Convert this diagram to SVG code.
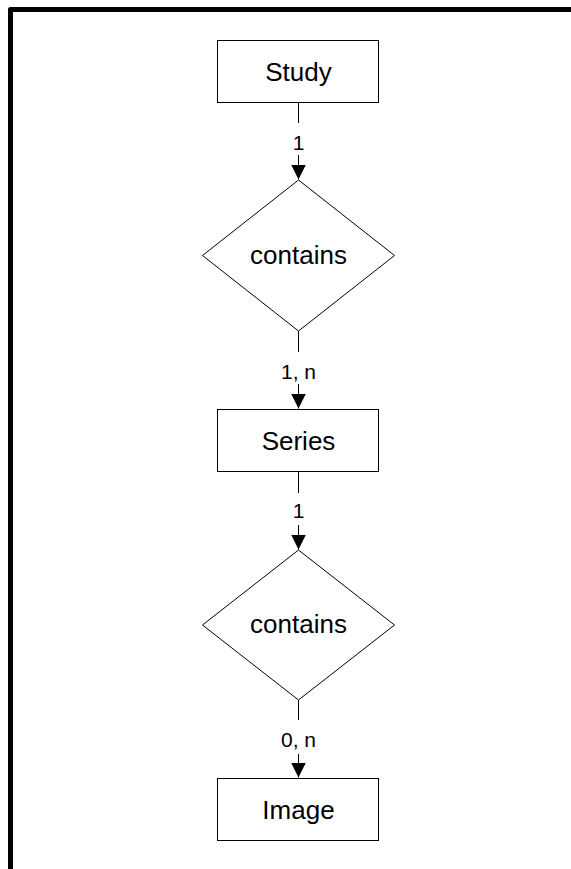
<svg xmlns="http://www.w3.org/2000/svg" width="571" height="869" viewBox="0 0 571 869">
<defs>
<style>
.node{fill:#fff;stroke:#000;stroke-width:1}
.t{font-family:"Liberation Sans",Arial,sans-serif;font-size:26px;fill:#000;text-anchor:middle}
.lbl{font-family:"Liberation Sans",Arial,sans-serif;font-size:21px;fill:#000;text-anchor:middle}
.conn{stroke:#000;stroke-width:1;fill:none}
.bg{fill:#fff;stroke:none}
</style>
<marker id="arr" markerWidth="15" markerHeight="15" refX="15" refY="7.5" orient="auto" markerUnits="userSpaceOnUse">
<path d="M0,0 L15,7.5 L0,15 Z" fill="#000"/>
</marker>
</defs>
<rect x="0" y="0" width="571" height="869" fill="#fff"/>
<rect x="10.5" y="9.5" width="620" height="900" fill="none" stroke="#000" stroke-width="5" stroke-linejoin="round"/>
<g id="connectors">
<g id="c1"><line class="conn" x1="298.5" y1="103" x2="298.5" y2="179.5" marker-end="url(#arr)"/><rect class="bg" x="288" y="123" width="21" height="32"/><text class="lbl" x="298.5" y="150">1</text></g>
<g id="c2"><line class="conn" x1="298.5" y1="331" x2="298.5" y2="408.5" marker-end="url(#arr)"/><rect class="bg" x="278" y="352" width="42" height="32"/><text class="lbl" x="298.5" y="379">1, n</text></g>
<g id="c3"><line class="conn" x1="298.5" y1="472" x2="298.5" y2="549.5" marker-end="url(#arr)"/><rect class="bg" x="288" y="493" width="21" height="32"/><text class="lbl" x="298.5" y="518">1</text></g>
<g id="c4"><line class="conn" x1="298.5" y1="700" x2="298.5" y2="777.5" marker-end="url(#arr)"/><rect class="bg" x="278" y="720" width="42" height="34"/><text class="lbl" x="298.5" y="747">0, n</text></g>
</g>
<g id="study"><rect class="node" x="217.5" y="40.5" width="161" height="62"/><text class="t" x="298.5" y="81">Study</text></g>
<g id="contains1"><polygon class="node" points="298.5,180 394.5,255.5 298.5,331 202.5,255.5"/><text class="t" x="298.5" y="264">contains</text></g>
<g id="series"><rect class="node" x="217.5" y="409.5" width="161" height="62"/><text class="t" x="298.5" y="450">Series</text></g>
<g id="contains2"><polygon class="node" points="298.5,550 394.5,625 298.5,700 202.5,625"/><text class="t" x="298.5" y="633">contains</text></g>
<g id="image"><rect class="node" x="217.5" y="778.5" width="161" height="62"/><text class="t" x="298.5" y="819">Image</text></g>
</svg>
